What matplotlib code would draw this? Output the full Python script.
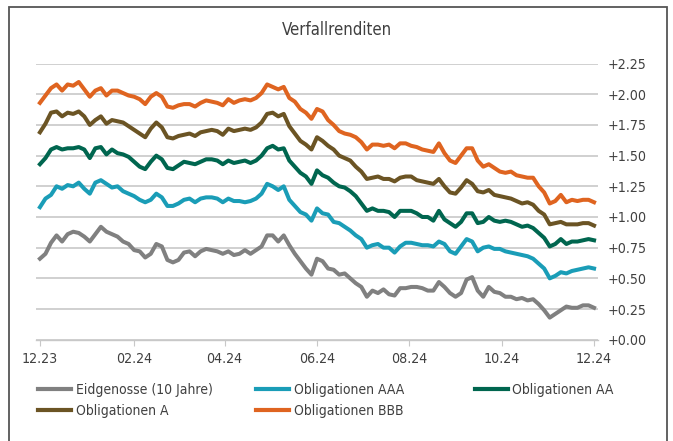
import matplotlib
matplotlib.use("Agg")
import matplotlib.pyplot as plt
import matplotlib.dates as mdates
from matplotlib.lines import Line2D
from matplotlib.patches import Rectangle
from matplotlib import font_manager
import numpy as np
import pandas as pd

# Verfallrenditen, Dec 2023 - Dec 2024
dates = pd.date_range("2023-12-01", "2024-12-01", periods=101)

eidgenosse = [0.66, 0.70, 0.79, 0.85, 0.80, 0.86, 0.88, 0.87, 0.84, 0.80,
              0.86, 0.92, 0.88, 0.86, 0.84, 0.80, 0.78, 0.73, 0.72, 0.67,
              0.70, 0.78, 0.76, 0.65, 0.63, 0.65, 0.71, 0.72, 0.68, 0.72,
              0.74, 0.73, 0.72, 0.70, 0.72, 0.69, 0.70, 0.73, 0.70, 0.73,
              0.76, 0.85, 0.85, 0.80, 0.85, 0.77, 0.70, 0.64, 0.58, 0.53,
              0.66, 0.64, 0.58, 0.57, 0.53, 0.54, 0.50, 0.46, 0.43, 0.35,
              0.40, 0.38, 0.41, 0.37, 0.36, 0.42, 0.42, 0.43, 0.43, 0.42,
              0.40, 0.40, 0.47, 0.43, 0.38, 0.35, 0.38, 0.49, 0.51, 0.40,
              0.35, 0.43, 0.39, 0.38, 0.35, 0.35, 0.33, 0.34, 0.32, 0.33,
              0.29, 0.24, 0.18, 0.21, 0.24, 0.27, 0.26, 0.26, 0.28, 0.28,
              0.26]
aaa = [1.08, 1.15, 1.18, 1.25, 1.23, 1.26, 1.25, 1.28, 1.23, 1.19,
       1.28, 1.30, 1.27, 1.24, 1.25, 1.21, 1.19, 1.17, 1.14, 1.12,
       1.14, 1.19, 1.16, 1.09, 1.09, 1.11, 1.14, 1.15, 1.12, 1.15,
       1.16, 1.16, 1.15, 1.12, 1.15, 1.13, 1.13, 1.12, 1.13, 1.15,
       1.19, 1.27, 1.25, 1.22, 1.25, 1.14, 1.09, 1.04, 1.02, 0.97,
       1.07, 1.03, 1.02, 0.96, 0.95, 0.92, 0.89, 0.85, 0.82, 0.75,
       0.77, 0.78, 0.75, 0.75, 0.71, 0.76, 0.79, 0.79, 0.78, 0.77,
       0.77, 0.76, 0.80, 0.78, 0.72, 0.70, 0.76, 0.82, 0.80, 0.72,
       0.75, 0.76, 0.74, 0.74, 0.72, 0.71, 0.70, 0.69, 0.68, 0.66,
       0.62, 0.58, 0.50, 0.52, 0.55, 0.54, 0.56, 0.57, 0.58, 0.59,
       0.58]
aa = [1.43, 1.48, 1.55, 1.57, 1.55, 1.56, 1.56, 1.57, 1.55, 1.48,
      1.56, 1.57, 1.51, 1.55, 1.52, 1.51, 1.49, 1.45, 1.41, 1.39,
      1.45, 1.50, 1.47, 1.40, 1.39, 1.42, 1.45, 1.44, 1.43, 1.45,
      1.47, 1.47, 1.46, 1.43, 1.46, 1.44, 1.45, 1.46, 1.44, 1.46,
      1.50, 1.56, 1.58, 1.55, 1.56, 1.46, 1.41, 1.36, 1.33, 1.27,
      1.38, 1.34, 1.32, 1.28, 1.25, 1.24, 1.21, 1.17, 1.11, 1.05,
      1.07, 1.05, 1.05, 1.04, 1.00, 1.05, 1.05, 1.05, 1.03, 1.00,
      1.00, 0.97, 1.05, 0.98, 0.95, 0.92, 0.96, 1.03, 1.03, 0.95,
      0.96, 1.00, 0.97, 0.96, 0.97, 0.96, 0.94, 0.92, 0.93, 0.91,
      0.87, 0.83, 0.76, 0.78, 0.82, 0.78, 0.80, 0.80, 0.81, 0.82,
      0.81]
a = [1.69, 1.76, 1.85, 1.86, 1.82, 1.85, 1.84, 1.86, 1.82, 1.75,
     1.79, 1.82, 1.76, 1.79, 1.78, 1.77, 1.74, 1.71, 1.68, 1.65,
     1.72, 1.77, 1.73, 1.65, 1.64, 1.66, 1.67, 1.68, 1.66, 1.69,
     1.70, 1.71, 1.70, 1.67, 1.72, 1.70, 1.71, 1.72, 1.71, 1.73,
     1.77, 1.84, 1.85, 1.82, 1.84, 1.74, 1.68, 1.62, 1.59, 1.55,
     1.65, 1.62, 1.58, 1.55, 1.50, 1.48, 1.46, 1.41, 1.37, 1.31,
     1.32, 1.33, 1.31, 1.31, 1.29, 1.32, 1.33, 1.33, 1.30, 1.29,
     1.28, 1.27, 1.31, 1.25, 1.20, 1.19, 1.24, 1.30, 1.27, 1.21,
     1.20, 1.22, 1.18, 1.17, 1.16, 1.15, 1.13, 1.11, 1.12, 1.10,
     1.05, 1.02, 0.94, 0.95, 0.96, 0.94, 0.94, 0.94, 0.95, 0.95,
     0.93]
bbb = [1.93, 1.99, 2.05, 2.08, 2.03, 2.08, 2.07, 2.10, 2.04, 1.98,
       2.03, 2.05, 1.99, 2.03, 2.03, 2.01, 1.99, 1.98, 1.96, 1.92,
       1.98, 2.01, 1.98, 1.90, 1.89, 1.91, 1.92, 1.92, 1.90, 1.93,
       1.95, 1.94, 1.93, 1.91, 1.96, 1.93, 1.95, 1.96, 1.95, 1.97,
       2.01, 2.08, 2.06, 2.04, 2.06, 1.97, 1.94, 1.88, 1.85, 1.80,
       1.88, 1.86, 1.79, 1.75, 1.70, 1.68, 1.67, 1.65, 1.61, 1.55,
       1.59, 1.59, 1.58, 1.59, 1.56, 1.60, 1.60, 1.58, 1.57, 1.55,
       1.54, 1.53, 1.60, 1.52, 1.46, 1.44, 1.50, 1.56, 1.56, 1.46,
       1.41, 1.43, 1.40, 1.37, 1.36, 1.37, 1.34, 1.33, 1.32, 1.32,
       1.25, 1.20, 1.11, 1.13, 1.18, 1.12, 1.14, 1.13, 1.14, 1.14,
       1.12]

labels = ["Eidgenosse (10 Jahre)", "Obligationen AAA", "Obligationen AA",
          "Obligationen A", "Obligationen BBB"]
colors = ["#808080", "#1a9db7", "#00664f", "#6b5424", "#df6420"]
series = [eidgenosse, aaa, aa, a, bbb]

yticks = [0.0, 0.25, 0.5, 0.75, 1.0, 1.25, 1.5, 1.75, 2.0, 2.25]
xtick_dates = pd.date_range("2023-12-01", "2024-12-01", freq="2MS")

# narrow font if there is one, otherwise condensed DejaVu
names = {f.name for f in font_manager.fontManager.ttflist}
if "Liberation Sans Narrow" in names:
    plt.rcParams['font.family'] = ['Liberation Sans Narrow', 'DejaVu Sans']
else:
    plt.rcParams['font.family'] = ['DejaVu Sans']
    plt.rcParams['font.stretch'] = 'condensed'

txt = "#404040"
grid = "#c8c8c8"

W, H = 673, 441
fig = plt.figure(figsize=(W / 100, H / 100), dpi=100)
ax = fig.add_axes([36 / W, 1 - 339.7 / H, (598 - 36) / W, (339.7 - 63.6) / H])

for s, c, l in zip(series, colors, labels):
    ax.plot(dates, s, color=c, lw=2.9, label=l, solid_joinstyle="round")

pad = pd.Timedelta(days=2.6)
ax.set_xlim(dates[0] - pad, dates[-1] + pad)
ax.set_ylim(0, 2.25)
ax.set_yticks(yticks)
ax.set_yticklabels([f"+{v:.2f}" for v in yticks])
ax.yaxis.tick_right()
ax.set_xticks(xtick_dates)
ax.xaxis.set_major_formatter(mdates.DateFormatter("%m.%y"))
ax.grid(axis="y", color=grid, lw=1.2)
ax.set_axisbelow(True)
for side in ["top", "left", "right"]:
    ax.spines[side].set_visible(False)
ax.spines["bottom"].set_color(grid)
ax.spines["bottom"].set_linewidth(1.0)
ax.tick_params(axis="y", length=0, pad=7, labelsize=10.2, labelcolor=txt)
ax.tick_params(axis="x", length=4, color=grid, pad=5, labelsize=10.2, labelcolor=txt)

fig.text(0.5, 1 - 30 / H, "Verfallrenditen", ha="center", va="center",
         fontsize=12, color=txt)

# legend, three columns placed like the original
handles = [Line2D([], [], color=c, lw=3) for c in colors]
cols = [([0, 3], 38), ([1, 4], 256), ([2], 475)]
for idx, xpix in cols:
    leg = fig.legend([handles[i] for i in idx], [labels[i] for i in idx],
                     loc="upper left", bbox_to_anchor=(xpix / W, 1 - 383 / H),
                     frameon=False, fontsize=10, handlelength=2.4,
                     handletextpad=0.3, labelspacing=0.5, borderpad=0,
                     borderaxespad=0, labelcolor=txt)

# outer frame
fig.patches.append(Rectangle((9 / W, -0.05), (667 - 9) / W, 1.05 - 7 / H,
                             transform=fig.transFigure, fill=False,
                             edgecolor="#555555", lw=1.3))

fig.savefig("out.png", dpi=100)
